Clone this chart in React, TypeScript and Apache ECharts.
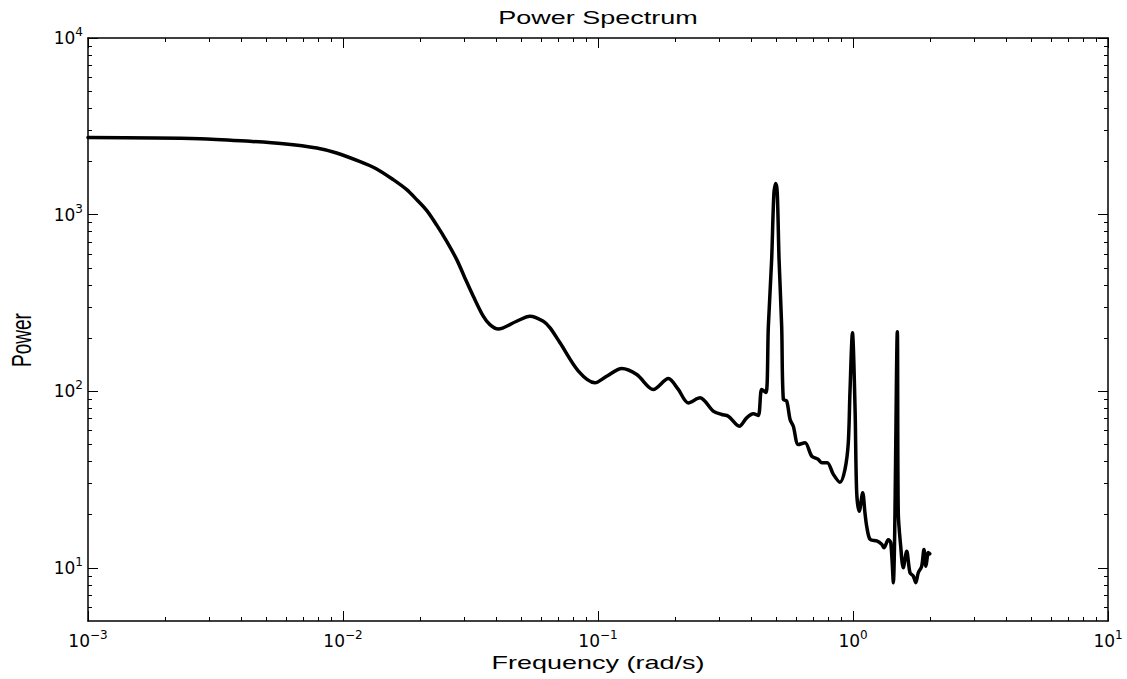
import React, { useEffect, useRef } from "react";
import * as echarts from "echarts";

// ---- Data ----
const frequency = [
  0.001, 0.00275, 0.00432, 0.00583, 0.00789, 0.00944, 0.01167, 0.01355, 0.01574, 0.01778,
  0.01945, 0.02128, 0.02331, 0.02551, 0.02793, 0.03006, 0.03243, 0.03548, 0.03767, 0.04064,
  0.04797, 0.05408, 0.06102, 0.06487, 0.07096, 0.08377, 0.0973, 0.1081, 0.1239,
  0.1419, 0.1648, 0.1888, 0.2065, 0.2259, 0.2512, 0.2831, 0.3055, 0.3243, 0.3581,
  0.3828, 0.4064, 0.4251, 0.4385, 0.4561, 0.4656, 0.4797, 0.4897, 0.498, 0.5047,
  0.5129, 0.5252, 0.533, 0.5495, 0.5665, 0.5834, 0.6102, 0.6486, 0.6887, 0.7311,
  0.7532, 0.7925, 0.8375, 0.8892, 0.9302, 0.9585, 0.9727, 0.995, 1.019, 1.034,
  1.0585, 1.0914, 1.114, 1.1317, 1.166, 1.239, 1.296, 1.323, 1.375, 1.406,
  1.439, 1.492, 1.505, 1.538, 1.574, 1.624, 1.673, 1.7236, 1.762, 1.803,
  1.859, 1.898, 1.932, 1.974, 2.0,
];
const power = [
  2730, 2690, 2600, 2522, 2385, 2234, 1995, 1814, 1578, 1385,
  1216, 1057, 872, 706, 556, 438, 345, 266, 238.5, 225,
  249, 266, 249, 228.5, 188, 130, 111.6, 121.6, 134.5,
  124.3, 102.3, 118, 102.3, 85.9, 91.8, 77.1, 73.8, 72.2, 63.4,
  70.7, 74.5, 72.9, 102.3, 98.4, 233, 556, 1327, 1500, 1327,
  556, 233, 90, 88, 69.2, 63.4, 49.9, 51.1, 42.9, 41.1,
  39.4, 39.4, 33.8, 30.5, 36.1, 51.1, 97.9, 214, 78.8, 26.6,
  20.9, 26.6, 20.5, 17.2, 14.5, 14.2, 13.6, 13.0, 14.4, 13.9,
  8.24, 217, 20.5, 13.3, 10.0, 12.4, 9.38, 8.98, 8.24, 9.38,
  10.2, 12.7, 10.2, 12.2, 12.0,
];

const xMajorTicks = [0.001, 0.01, 0.1, 1, 10];
const yMajorTicks = [10, 100, 1000, 10000];
const minorMultipliers = [2, 3, 4, 5, 6, 7, 8, 9];
const xDecades = [0.001, 0.01, 0.1, 1];
const yDecades = [1, 10, 100, 1000];
const xRange = [0.001, 10];
const yRange = [5, 10000];

const titleText = "Power Spectrum";
const xName = "Frequency (rad/s)";
const yName = "Power";

const xMinorTicks = xDecades.flatMap((d) => minorMultipliers.map((m) => +(m * d).toPrecision(6)));
const yMinorTicks = yDecades
  .flatMap((d) => minorMultipliers.map((m) => +(m * d).toPrecision(6)))
  .filter((v) => v > yRange[0]);

const labelFont = "DejaVu Sans";
const nameFont = "Liberation Sans";

function powLabel(v: number) {
  const e = Math.round(Math.log10(v));
  const es = e < 0 ? "\u2212" + String(-e) : String(e);
  return `{b|10}{s|${es}}`;
}

const labelRich = {
  b: { fontSize: 17, fontFamily: labelFont, color: "#000", lineHeight: 24 },
  s: { fontSize: 12, fontFamily: labelFont, color: "#000", lineHeight: 12, verticalAlign: "top" },
};

function makeAxis(
  dim: "x" | "y",
  position: string,
  ticks: number[],
  tickLen: number,
  withLine: boolean,
  withLabels: boolean
) {
  const range = dim === "x" ? xRange : yRange;
  const majors = dim === "x" ? xMajorTicks : yMajorTicks;
  return {
    type: "log",
    logBase: 10,
    gridIndex: 0,
    position,
    min: range[0],
    max: range[1],
    axisLine: { show: withLine, onZero: false, lineStyle: { color: "#000", width: 1.5 } },
    axisTick: {
      show: true,
      inside: true,
      length: tickLen,
      customValues: ticks,
      lineStyle: { color: "#000", width: 1 },
    },
    axisLabel: withLabels
      ? {
          show: true,
          customValues: majors,
          margin: dim === "x" ? 8 : 5,
          formatter: powLabel,
          rich: labelRich,
        }
      : { show: false },
    splitLine: { show: false },
    minorTick: { show: false },
    minorSplitLine: { show: false },
  };
}

export default function App() {
  const ref = useRef<HTMLDivElement>(null);

  useEffect(() => {
    if (!ref.current) return;
    const chart = echarts.init(ref.current, undefined, { renderer: "svg" });
    const seriesData = frequency.map((f, i) => [f, power[i]]);

    chart.setOption({
      animation: false,
      backgroundColor: "#fff",
      grid: { left: 88, right: 19, top: 38, bottom: 58, containLabel: false },
      xAxis: [
        makeAxis("x", "bottom", xMajorTicks, 10, true, true),
        makeAxis("x", "bottom", xMinorTicks, 4, false, false),
        makeAxis("x", "top", xMajorTicks, 10, true, false),
        makeAxis("x", "top", xMinorTicks, 4, false, false),
      ],
      yAxis: [
        makeAxis("y", "left", yMajorTicks, 10, true, true),
        makeAxis("y", "left", yMinorTicks, 4, false, false),
        makeAxis("y", "right", yMajorTicks, 10, true, false),
        makeAxis("y", "right", yMinorTicks, 4, false, false),
      ],
      series: [
        {
          type: "line",
          xAxisIndex: 0,
          yAxisIndex: 0,
          data: seriesData,
          showSymbol: false,
          symbol: "none",
          smooth: 0.3,
          lineStyle: { color: "#000", width: 3.5, join: "round", cap: "round" },
        },
      ],
      graphic: [
        {
          type: "text",
          x: 598,
          y: 17,
          scaleX: 1.42,
          style: {
            text: titleText,
            font: `19px "${nameFont}"`,
            fill: "#000",
            textAlign: "center",
            textVerticalAlign: "middle",
          },
        },
        {
          type: "text",
          x: 598,
          y: 662,
          scaleX: 1.42,
          style: {
            text: xName,
            font: `19px "${nameFont}"`,
            fill: "#000",
            textAlign: "center",
            textVerticalAlign: "middle",
          },
        },
        {
          type: "text",
          x: 22,
          y: 340,
          rotation: Math.PI / 2,
          scaleY: 1.42,
          style: {
            text: yName,
            font: `19px "${nameFont}"`,
            fill: "#000",
            textAlign: "center",
            textVerticalAlign: "middle",
          },
        },
      ],
    });

    return () => {
      chart.dispose();
    };
  }, []);

  return (
    <div
      ref={ref}
      style={{ position: "absolute", left: 0, top: 0, width: 1127, height: 679, background: "#fff" }}
    />
  );
}
